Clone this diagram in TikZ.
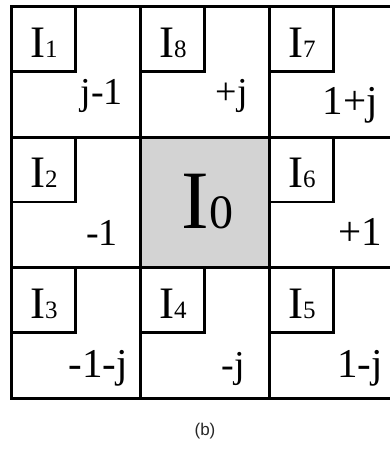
\documentclass[tikz,border=0pt]{standalone}
\usepackage{fontspec}
\setmainfont{Liberation Serif}
\newfontfamily\capfont{Liberation Sans}
\usetikzlibrary{positioning}
\definecolor{cellgray}{RGB}{211,211,211}

\begin{document}
\begin{tikzpicture}[x=1pt, y=-1pt,
		cell/.style={draw, line width=2.8pt, minimum width=129pt, minimum height=130.7pt, inner sep=0pt, anchor=north west},
		idbox/.style={draw, line width=2.5pt, minimum width=64pt, minimum height=65pt, inner sep=0pt, anchor=north west},
		idlabel/.style={inner sep=0pt, anchor=base, font=\fontsize{45}{45}\selectfont},
		offset/.style={inner sep=0pt, anchor=base east, font=\fontsize{38}{38}\selectfont},
		bigoffset/.style={offset, font=\fontsize{41}{41}\selectfont}]
		
		\useasboundingbox (0,0) rectangle (390,450);
		
		% Celulas vizinhas
		\foreach \n/\x/\y in {1/10/5, 8/139/5, 7/268/5, 2/10/135.7, 6/268/135.7, 3/10/266.3, 4/139/266.3, 5/268/266.3} {
			\node[cell] (c\n) at (\x,\y) {};
		}
		
		% Celula central
		\node[cell, fill=cellgray] (c0) at (139,135.7) {};
		\node[inner sep=0pt, anchor=base] (l0) at (207.5,228)
			{\fontsize{83}{83}\selectfont I\fontsize{48}{48}\selectfont 0};
		
		% Caixas dos indices
		\foreach \n/\x/\y in {1/10/5, 8/139/5, 7/268/5, 2/10/135.7, 6/268/135.7, 3/10/266.3, 4/139/266.3, 5/268/266.3} {
			\node[idbox] (b\n) at (c\n.north west) {};
			\node[idlabel] (l\n) at (\x+34,\y+52) {I\fontsize{25}{25}\selectfont\n};
		}
		
		% Deslocamentos
		\node[offset] (o1) at (123,104) {j-1};
		\node[offset] (o8) at (248,104) {+j};
		\node[bigoffset] (o7) at (378,114) {1+j};
		\node[offset] (o2) at (118,245) {-1};
		\node[bigoffset] (o6) at (382,245) {+1};
		\node[bigoffset] (o3) at (128,377) {-1-j};
		\node[offset] (o4) at (245,377) {-j};
		\node[bigoffset] (o5) at (383,377) {1-j};
		
		% Legenda
		\node[text=black!85, font=\capfont\fontsize{17}{17}\selectfont] (cap) at (205,431) {(b)};
		
	\end{tikzpicture}
\end{document}
